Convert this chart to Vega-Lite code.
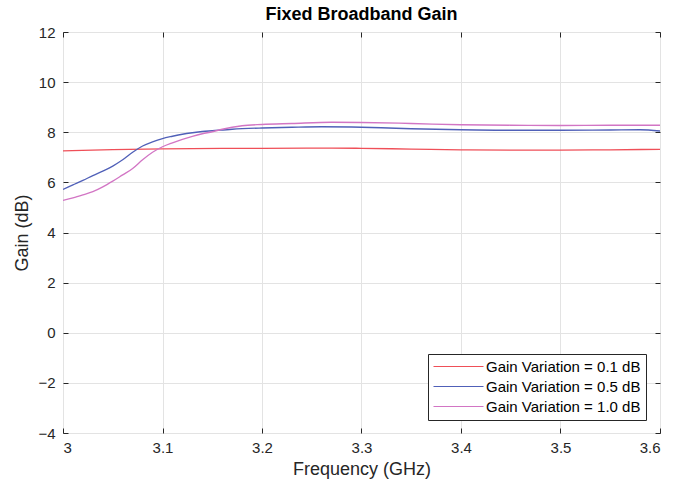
{
  "$schema": "https://vega.github.io/schema/vega-lite/v6.json",
  "width": 597,
  "height": 401,
  "autosize": "none",
  "padding": {"left": 63, "top": 32, "right": 40, "bottom": 53},
  "background": "white",
  "config": {
    "font": "Liberation Sans",
    "view": {"stroke": "#262626", "strokeWidth": 1},
    "axis": {"domain": false, "gridColor": "#e3e3e3", "tickColor": "#262626", "labelColor": "#262626", "labelFontSize": 15, "titleFontSize": 18, "titleFontWeight": "normal", "titleColor": "#262626", "tickSize": -5}
  },
  "title": {"text": "Fixed Broadband Gain", "fontSize": 18, "fontWeight": "bold", "color": "#000000", "offset": 1},
  "data": {"values": [
    {"f": 3.00, "g": 7.26, "s": "Gain Variation = 0.1 dB"},
    {"f": 3.05, "g": 7.31, "s": "Gain Variation = 0.1 dB"},
    {"f": 3.10, "g": 7.34, "s": "Gain Variation = 0.1 dB"},
    {"f": 3.20, "g": 7.36, "s": "Gain Variation = 0.1 dB"},
    {"f": 3.27, "g": 7.37, "s": "Gain Variation = 0.1 dB"},
    {"f": 3.30, "g": 7.36, "s": "Gain Variation = 0.1 dB"},
    {"f": 3.35, "g": 7.33, "s": "Gain Variation = 0.1 dB"},
    {"f": 3.40, "g": 7.30, "s": "Gain Variation = 0.1 dB"},
    {"f": 3.45, "g": 7.29, "s": "Gain Variation = 0.1 dB"},
    {"f": 3.50, "g": 7.29, "s": "Gain Variation = 0.1 dB"},
    {"f": 3.55, "g": 7.30, "s": "Gain Variation = 0.1 dB"},
    {"f": 3.60, "g": 7.32, "s": "Gain Variation = 0.1 dB"},
    {"f": 3.00, "g": 5.72, "s": "Gain Variation = 0.5 dB"},
    {"f": 3.01, "g": 5.90, "s": "Gain Variation = 0.5 dB"},
    {"f": 3.02, "g": 6.08, "s": "Gain Variation = 0.5 dB"},
    {"f": 3.03, "g": 6.27, "s": "Gain Variation = 0.5 dB"},
    {"f": 3.04, "g": 6.45, "s": "Gain Variation = 0.5 dB"},
    {"f": 3.05, "g": 6.65, "s": "Gain Variation = 0.5 dB"},
    {"f": 3.06, "g": 6.90, "s": "Gain Variation = 0.5 dB"},
    {"f": 3.07, "g": 7.20, "s": "Gain Variation = 0.5 dB"},
    {"f": 3.08, "g": 7.45, "s": "Gain Variation = 0.5 dB"},
    {"f": 3.09, "g": 7.62, "s": "Gain Variation = 0.5 dB"},
    {"f": 3.10, "g": 7.75, "s": "Gain Variation = 0.5 dB"},
    {"f": 3.11, "g": 7.84, "s": "Gain Variation = 0.5 dB"},
    {"f": 3.12, "g": 7.92, "s": "Gain Variation = 0.5 dB"},
    {"f": 3.13, "g": 7.98, "s": "Gain Variation = 0.5 dB"},
    {"f": 3.14, "g": 8.03, "s": "Gain Variation = 0.5 dB"},
    {"f": 3.15, "g": 8.06, "s": "Gain Variation = 0.5 dB"},
    {"f": 3.17, "g": 8.12, "s": "Gain Variation = 0.5 dB"},
    {"f": 3.20, "g": 8.17, "s": "Gain Variation = 0.5 dB"},
    {"f": 3.23, "g": 8.20, "s": "Gain Variation = 0.5 dB"},
    {"f": 3.26, "g": 8.22, "s": "Gain Variation = 0.5 dB"},
    {"f": 3.29, "g": 8.21, "s": "Gain Variation = 0.5 dB"},
    {"f": 3.32, "g": 8.18, "s": "Gain Variation = 0.5 dB"},
    {"f": 3.35, "g": 8.14, "s": "Gain Variation = 0.5 dB"},
    {"f": 3.40, "g": 8.10, "s": "Gain Variation = 0.5 dB"},
    {"f": 3.45, "g": 8.08, "s": "Gain Variation = 0.5 dB"},
    {"f": 3.50, "g": 8.08, "s": "Gain Variation = 0.5 dB"},
    {"f": 3.55, "g": 8.09, "s": "Gain Variation = 0.5 dB"},
    {"f": 3.58, "g": 8.10, "s": "Gain Variation = 0.5 dB"},
    {"f": 3.60, "g": 8.05, "s": "Gain Variation = 0.5 dB"},
    {"f": 3.00, "g": 5.28, "s": "Gain Variation = 1.0 dB"},
    {"f": 3.01, "g": 5.38, "s": "Gain Variation = 1.0 dB"},
    {"f": 3.02, "g": 5.50, "s": "Gain Variation = 1.0 dB"},
    {"f": 3.03, "g": 5.63, "s": "Gain Variation = 1.0 dB"},
    {"f": 3.04, "g": 5.82, "s": "Gain Variation = 1.0 dB"},
    {"f": 3.05, "g": 6.05, "s": "Gain Variation = 1.0 dB"},
    {"f": 3.06, "g": 6.30, "s": "Gain Variation = 1.0 dB"},
    {"f": 3.07, "g": 6.55, "s": "Gain Variation = 1.0 dB"},
    {"f": 3.08, "g": 6.90, "s": "Gain Variation = 1.0 dB"},
    {"f": 3.09, "g": 7.20, "s": "Gain Variation = 1.0 dB"},
    {"f": 3.10, "g": 7.42, "s": "Gain Variation = 1.0 dB"},
    {"f": 3.11, "g": 7.58, "s": "Gain Variation = 1.0 dB"},
    {"f": 3.12, "g": 7.72, "s": "Gain Variation = 1.0 dB"},
    {"f": 3.13, "g": 7.84, "s": "Gain Variation = 1.0 dB"},
    {"f": 3.14, "g": 7.94, "s": "Gain Variation = 1.0 dB"},
    {"f": 3.15, "g": 8.02, "s": "Gain Variation = 1.0 dB"},
    {"f": 3.16, "g": 8.12, "s": "Gain Variation = 1.0 dB"},
    {"f": 3.17, "g": 8.20, "s": "Gain Variation = 1.0 dB"},
    {"f": 3.18, "g": 8.26, "s": "Gain Variation = 1.0 dB"},
    {"f": 3.20, "g": 8.31, "s": "Gain Variation = 1.0 dB"},
    {"f": 3.23, "g": 8.35, "s": "Gain Variation = 1.0 dB"},
    {"f": 3.27, "g": 8.40, "s": "Gain Variation = 1.0 dB"},
    {"f": 3.30, "g": 8.39, "s": "Gain Variation = 1.0 dB"},
    {"f": 3.35, "g": 8.35, "s": "Gain Variation = 1.0 dB"},
    {"f": 3.40, "g": 8.30, "s": "Gain Variation = 1.0 dB"},
    {"f": 3.45, "g": 8.28, "s": "Gain Variation = 1.0 dB"},
    {"f": 3.50, "g": 8.27, "s": "Gain Variation = 1.0 dB"},
    {"f": 3.55, "g": 8.28, "s": "Gain Variation = 1.0 dB"},
    {"f": 3.60, "g": 8.28, "s": "Gain Variation = 1.0 dB"}
  ]},
  "layer": [
    {
      "mark": {"type": "line", "strokeWidth": 1.3, "interpolate": "monotone", "clip": true},
      "encoding": {
        "x": {"field": "f", "type": "quantitative", "scale": {"domain": [3, 3.6], "nice": false, "zero": false},
              "axis": {"title": "Frequency (GHz)", "values": [3, 3.1, 3.2, 3.3, 3.4, 3.5, 3.6], "labelExpr": "datum.value == 3 ? '3' : format(datum.value, '.1f')", "labelPadding": 12, "titlePadding": 5}},
        "y": {"field": "g", "type": "quantitative", "scale": {"domain": [-4, 12], "nice": false, "zero": false},
              "axis": {"title": "Gain (dB)", "values": [-4, -2, 0, 2, 4, 6, 8, 10, 12], "labelPadding": 13, "titlePadding": 6}},
        "color": {"field": "s", "type": "nominal",
          "scale": {"domain": ["Gain Variation = 0.1 dB", "Gain Variation = 0.5 dB", "Gain Variation = 1.0 dB"], "range": ["#ef4f58", "#5060b8", "#d275c4"]},
          "legend": {"title": null, "orient": "none", "legendX": 365, "legendY": 322, "symbolType": "M-5,0H5", "symbolSize": 100, "symbolStrokeWidth": 1.2, "symbolFillColor": "transparent", "labelFontSize": 15, "labelColor": "#000000", "strokeColor": "#262626", "fillColor": "white", "padding": 5, "rowPadding": 4, "labelOffset": 20, "symbolOffset": 18}}
      }
    },
    {
      "mark": {"type": "point", "opacity": 0},
      "encoding": {
        "x": {"field": "f", "type": "quantitative", "axis": {"orient": "top", "values": [3, 3.1, 3.2, 3.3, 3.4, 3.5, 3.6], "labels": false, "title": null, "grid": false}},
        "y": {"field": "g", "type": "quantitative", "axis": {"orient": "right", "values": [-4, -2, 0, 2, 4, 6, 8, 10, 12], "labels": false, "title": null, "grid": false}}
      }
    }
  ],
  "resolve": {"axis": {"x": "independent", "y": "independent"}}
}
